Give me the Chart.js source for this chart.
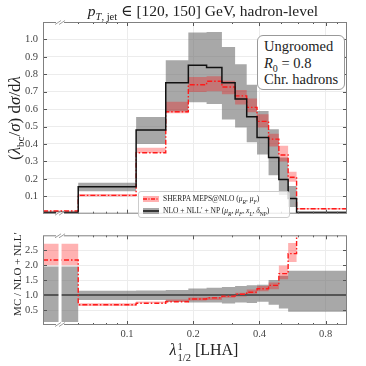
<!DOCTYPE html>
<html><head><meta charset="utf-8">
<script src="https://cdn.jsdelivr.net/npm/chart.js@4.4.1/dist/chart.umd.min.js"></script>
<style>
html,body{margin:0;padding:0;background:#fff;}
#wrap{position:relative;width:366px;height:366px;overflow:hidden;font-family:"Liberation Serif","DejaVu Serif",serif;color:#222;}
canvas{position:absolute;left:0;}
.t{position:absolute;white-space:nowrap;line-height:1;}
sub,sup{line-height:0;}
.ss{display:inline-block;vertical-align:-0.45em;font-size:10.5px;line-height:1;text-align:left;margin-left:1px;}
.ss span{display:block;}
</style></head><body>
<div id="wrap">
  <canvas id="cMain" width="366" height="225" style="top:0;width:366px;height:225px"></canvas>
  <canvas id="cRatio" width="366" height="142" style="top:224px;width:366px;height:142px"></canvas>

  <div class="t" style="left:203px;top:3px;font-size:15.5px;transform:translateX(-50%)"><i>p</i><sub style="font-size:10.5px"><i>T</i>, jet</sub> ∈ [120, 150] GeV, hadron-level</div>
  <div class="t" style="left:14px;top:118px;font-size:17px;transform:translate(-50%,-50%) rotate(-90deg)">(<i>λ</i><sub style="font-size:11px">bc</sub>/<i>σ</i>) d<i>σ</i>/d<i>λ</i></div>
  <div class="t" style="left:17px;top:274px;font-size:11px;transform:translate(-50%,-50%) rotate(-90deg)">MC / NLO + NLL′</div>
  <div class="t" style="left:204px;top:352px;font-size:16px;transform:translate(-50%,-50%)"><i>λ</i><span class="ss"><span>1</span><span>1/2</span></span> [LHA]</div>

  <div class="t" style="left:257px;top:35px;width:80px;height:51px;border:1px solid #999;border-radius:6px;background:#fff;padding:2px 0 0 6px;font-size:14.5px;line-height:16.5px">Ungroomed<br><i>R</i><sub style="font-size:10px">0</sub> = 0.8<br>Chr. hadrons</div>

  <div class="t" style="left:138px;top:191px;width:150px;height:25px;border:1px solid #ccc;border-radius:3px;background:rgba(255,255,255,0.8);font-size:7.5px">
    <svg style="position:absolute;left:4px;top:3px" width="16" height="20">
      <rect x="0" y="1" width="16" height="6" fill="rgba(255,0,0,0.3)"/>
      <line x1="0" y1="4" x2="16" y2="4" stroke="#ff1a1a" stroke-width="1.5" stroke-dasharray="4,1.5,1,1.5"/>
      <rect x="0" y="13" width="16" height="6" fill="rgba(110,110,110,0.6)"/>
      <line x1="0" y1="16" x2="16" y2="16" stroke="#111" stroke-width="1.5"/>
    </svg>
    <div style="position:absolute;left:24px;top:3px">SHERPA MEPS@NLO (<i>μ</i><sub style="font-size:5.5px"><i>R</i></sub>, <i>μ</i><sub style="font-size:5.5px"><i>F</i></sub>)</div>
    <div style="position:absolute;left:24px;top:15px">NLO + NLL′ + NP (<i>μ</i><sub style="font-size:5.5px"><i>R</i></sub>, <i>μ</i><sub style="font-size:5.5px"><i>F</i></sub>, <i>x</i><sub style="font-size:5.5px"><i>L</i></sub>, <i>δ</i><sub style="font-size:5.5px">NP</sub>)</div>
  </div>
</div>
<script>
// ---- data ----
const binEdges = [0.0415, 0.06, 0.11, 0.15, 0.19, 0.23, 0.27, 0.31, 0.35, 0.39, 0.44, 0.49, 0.54, 0.59, 1.0];
const nllCentral = [0.007, 0.155, 0.48, 0.752, 0.852, 0.839, 0.752, 0.658, 0.556, 0.437, 0.323, 0.196, 0.0875, 0.007];
const nllLow     = [0.0007, 0.129, 0.40, 0.587, 0.64, 0.63, 0.54, 0.495, 0.41, 0.34, 0.22, 0.108, 0.039, 0.0031];
const nllHigh    = [0.0137, 0.178, 0.555, 0.88, 1.04, 1.042, 0.957, 0.857, 0.74, 0.59, 0.485, 0.323, 0.159, 0.0127];
const sherpaCentral = [0.0152, 0.105, 0.35, 0.585, 0.74, 0.76, 0.727, 0.676, 0.61, 0.53, 0.428, 0.337, 0.209, 0.028];
const sherpaLow     = [0.014, 0.098, 0.348, 0.577, 0.698, 0.703, 0.685, 0.626, 0.582, 0.495, 0.386, 0.30, 0.184, 0.024];
const sherpaHigh    = [0.019, 0.113, 0.378, 0.643, 0.785, 0.789, 0.763, 0.71, 0.661, 0.571, 0.459, 0.39, 0.24, 0.032];
const xTickValues = [0.1, 0.2, 0.4, 0.8];
const xMinorTicks = [0.06, 0.07, 0.08, 0.09, 0.3, 0.5, 0.6, 0.7, 0.9];
const mainYTicks = [0.1, 0.2, 0.3, 0.4, 0.5, 0.6, 0.7, 0.8, 0.9, 1.0];
const ratioYTicks = [0.5, 1.0, 1.5, 2.0, 2.5];
const axisBreak = 0.0496;

// ---- helpers ----
const GREY = 'rgba(110,110,110,0.6)', PINK = 'rgba(255,0,0,0.3)', RED = '#ff1a1a';
const FONT = '"Liberation Serif","DejaVu Serif",serif';
function stepPts(vals) {
  const p = vals.map((v, i) => ({x: binEdges[i], y: v}));
  p.push({x: binEdges[binEdges.length - 1], y: vals[vals.length - 1]});
  return p;
}
function div(a, b) { return a.map((v, i) => v / b[i]); }
function band(lo, hi, color, order) {
  return [
    {data: stepPts(hi), fill: '+1', backgroundColor: color, borderColor: 'transparent', borderWidth: 0, pointRadius: 0, stepped: true, order},
    {data: stepPts(lo), fill: false, backgroundColor: color, borderColor: 'transparent', borderWidth: 0, pointRadius: 0, stepped: true, order}
  ];
}
function line(vals, color, width, dash, order) {
  return {data: stepPts(vals), fill: false, borderColor: color, borderWidth: width, borderDash: dash, pointRadius: 0, stepped: true, order};
}
function drawBreak(ctx, px, py) {
  ctx.save();
  ctx.fillStyle = '#fff';
  ctx.fillRect(px - 4, py - 1, 8, 2);
  ctx.strokeStyle = '#888'; ctx.lineWidth = 0.8;
  ctx.beginPath();
  for (const dx of [-2, 2]) { ctx.moveTo(px + dx - 3, py + 2); ctx.lineTo(px + dx + 3, py - 2); }
  ctx.stroke();
  ctx.restore();
}
const framePlugin = {
  id: 'frame',
  afterDatasetsDraw(chart, args, opts) {
    if (!opts.stripe) return;
    const {ctx, chartArea: a, scales} = chart;
    const px = scales.x.getPixelForValue(axisBreak);
    ctx.save(); ctx.fillStyle = '#fff';
    ctx.fillRect(px - 1.5, a.top, 3, a.bottom - a.top);
    ctx.restore();
  },
  afterDraw(chart, args, opts) {
    const {ctx, chartArea: a, scales} = chart;
    const xs = scales.x, ys = scales.y;
    ctx.save();
    ctx.strokeStyle = '#555'; ctx.lineWidth = 1;
    ctx.beginPath();
    for (const v of xTickValues) {
      const px = Math.round(xs.getPixelForValue(v)) + 0.5;
      ctx.moveTo(px, a.bottom); ctx.lineTo(px, a.bottom - 4);
      ctx.moveTo(px, a.top); ctx.lineTo(px, a.top + 4);
    }
    for (const v of xMinorTicks) {
      const px = Math.round(xs.getPixelForValue(v)) + 0.5;
      ctx.moveTo(px, a.bottom); ctx.lineTo(px, a.bottom - 2);
      ctx.moveTo(px, a.top); ctx.lineTo(px, a.top + 2);
    }
    for (const t of ys.ticks) {
      const py = Math.round(ys.getPixelForValue(t.value)) + 0.5;
      ctx.moveTo(a.left, py); ctx.lineTo(a.left + 4, py);
      ctx.moveTo(a.right, py); ctx.lineTo(a.right - 4, py);
    }
    ctx.stroke();
    ctx.strokeStyle = '#808080';
    ctx.strokeRect(a.left + 0.5, a.top + 0.5, a.right - a.left - 1, a.bottom - a.top - 1);
    const bx = xs.getPixelForValue(axisBreak);
    drawBreak(ctx, bx, a.top + 0.5);
    drawBreak(ctx, bx, a.bottom - 0.5);
    ctx.restore();
  }
};
function xScale(showLabels) {
  return {
    type: 'logarithmic', min: binEdges[0], max: binEdges[binEdges.length - 1], bounds: 'data',
    afterBuildTicks: s => { s.ticks = xTickValues.map(v => ({value: v})); },
    ticks: {display: showLabels, callback: v => Number(v).toFixed(1), font: {family: FONT, size: 10.5}, color: '#444', padding: 3, maxRotation: 0, autoSkip: false},
    grid: {color: '#ececec', drawTicks: false},
    border: {display: false},
    afterFit: s => { s.height = showLabels ? 41 : 0; }
  };
}
function yScale(min, max, tickVals) {
  return {
    type: 'linear', min, max, bounds: 'data',
    afterBuildTicks: s => { s.ticks = tickVals.map(v => ({value: v})); },
    ticks: {callback: v => Number(v).toFixed(1), font: {family: FONT, size: 10.5}, color: '#444', padding: 5},
    grid: {color: '#ececec', drawTicks: false},
    border: {display: false},
    afterFit: s => { s.width = 43; }
  };
}
const common = {
  responsive: false, animation: false, devicePixelRatio: 1,
  plugins: {legend: {display: false}, tooltip: {enabled: false}}
};

new Chart(document.getElementById('cMain'), {
  type: 'line',
  data: {datasets: [
    line(nllCentral, '#111', 1.5, [], 0),
    line(sherpaCentral, RED, 1.4, [5, 2, 1.5, 2], 1),
    ...band(sherpaLow, sherpaHigh, PINK, 2),
    ...band(nllLow, nllHigh, GREY, 3)
  ]},
  options: Object.assign({}, common, {
    layout: {padding: {top: 22, bottom: 0, left: 0, right: 19}},
    scales: {x: xScale(false), y: yScale(0, 1.1, mainYTicks)},
    plugins: Object.assign({}, common.plugins, {frame: {stripe: false}})
  }),
  plugins: [framePlugin]
});

new Chart(document.getElementById('cRatio'), {
  type: 'line',
  data: {datasets: [
    line(div(sherpaCentral, nllCentral), RED, 1.4, [5, 2, 1.5, 2], 0),
    line(div(nllCentral, nllCentral), '#555', 2, [], 1),
    ...band(div(sherpaLow, nllCentral), div(sherpaHigh, nllCentral), PINK, 2),
    ...band(div(nllLow, nllCentral), div(nllHigh, nllCentral), GREY, 3)
  ]},
  options: Object.assign({}, common, {
    layout: {padding: {top: 0, bottom: 0, left: 0, right: 19}},
    scales: {x: xScale(true), y: yScale(0, 3.0, ratioYTicks)},
    plugins: Object.assign({}, common.plugins, {frame: {stripe: true}})
  }),
  plugins: [framePlugin]
});
</script>
</body></html>
